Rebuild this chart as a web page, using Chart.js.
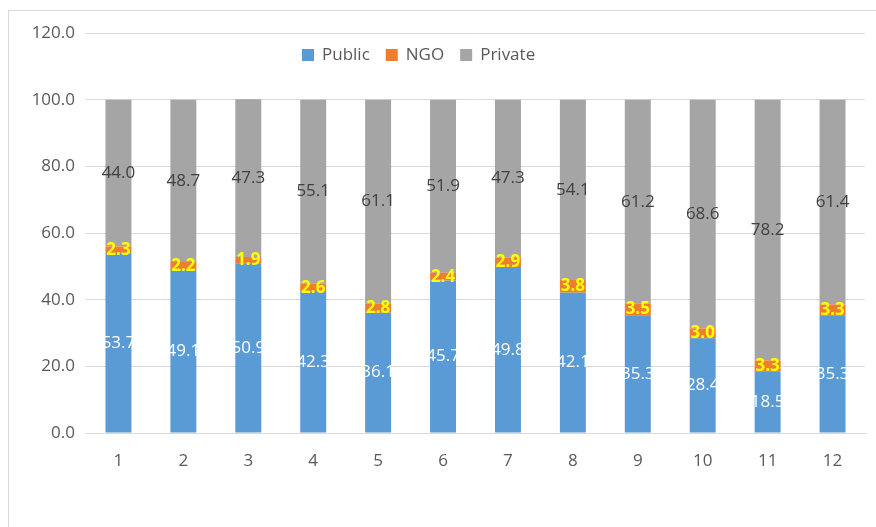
<!DOCTYPE html>
<html>
<head>
<meta charset="utf-8">
<script src="https://cdn.jsdelivr.net/npm/chart.js@4.4.1/dist/chart.umd.min.js"></script>
<style>
    html, body { margin: 0; padding: 0; background: #fff; }
    #wrap { position: relative; width: 876px; height: 527px; overflow: hidden; }
    #frame { position: absolute; left: 8px; top: 10px; width: 900px; height: 560px; border: 1px solid #d9d9d9; box-sizing: border-box; }
    #chart { position: absolute; left: 0; top: 0; }
</style>
</head>
<body>
<div id="wrap">
    <div id="frame"></div>
    <canvas id="chart" width="876" height="527"></canvas>
</div>
<script>
// Datos por mes
const categories = ['1', '2', '3', '4', '5', '6', '7', '8', '9', '10', '11', '12'];
const publicValues = [53.7, 49.1, 50.9, 42.3, 36.1, 45.7, 49.8, 42.1, 35.3, 28.4, 18.5, 35.3];
const ngoValues = [2.3, 2.2, 1.9, 2.6, 2.8, 2.4, 2.9, 3.8, 3.5, 3.0, 3.3, 3.3];
const privateValues = [44.0, 48.7, 47.3, 55.1, 61.1, 51.9, 47.3, 54.1, 61.2, 68.6, 78.2, 61.4];

const FONT = '"Open Sans", "Noto Sans", sans-serif';
const labelColors = ['#ffffff', '#ffff00', '#404040'];
const labelWeights = ['normal', 'bold', 'normal'];

// Etiquetas de valor centradas en cada segmento
const valueLabels = {
    id: 'valueLabels',
    afterDatasetsDraw(chart) {
        const ctx = chart.ctx;
        ctx.save();
        ctx.textAlign = 'center';
        ctx.textBaseline = 'middle';
        chart.data.datasets.forEach((ds, i) => {
            const meta = chart.getDatasetMeta(i);
            ctx.fillStyle = labelColors[i];
            ctx.font = `${labelWeights[i]} 17px ${FONT}`;
            meta.data.forEach((bar, j) => {
                const y = (bar.y + bar.base) / 2;
                ctx.fillText(ds.data[j].toFixed(1), bar.x, y);
            });
        });
        ctx.restore();
    }
};

// Leyenda dibujada encima del área de trazado
const topLegend = {
    id: 'topLegend',
    afterDraw(chart) {
        const ctx = chart.ctx;
        ctx.save();
        ctx.font = `17px ${FONT}`;
        ctx.textBaseline = 'middle';
        let x = 302;
        const y = 55;
        chart.data.datasets.forEach(ds => {
            ctx.fillStyle = ds.backgroundColor;
            ctx.fillRect(x, y - 6, 12, 12);
            ctx.fillStyle = '#595959';
            ctx.fillText(ds.label, x + 20, y);
            x += 20 + ctx.measureText(ds.label).width + 16;
        });
        ctx.restore();
    }
};

new Chart(document.getElementById('chart'), {
    type: 'bar',
    data: {
        labels: categories,
        datasets: [
            { label: 'Public', data: publicValues, backgroundColor: '#5b9bd5' },
            { label: 'NGO', data: ngoValues, backgroundColor: '#ed7d31' },
            { label: 'Private', data: privateValues, backgroundColor: '#a5a5a5' }
        ]
    },
    options: {
        responsive: false,
        animation: false,
        layout: { padding: { top: 33, right: 11, bottom: 54, left: 0 } },
        datasets: { bar: { barPercentage: 0.4, categoryPercentage: 1 } },
        plugins: { legend: { display: false }, tooltip: { enabled: false } },
        scales: {
            x: {
                stacked: true,
                grid: { display: false },
                border: { color: '#d9d9d9' },
                ticks: { color: '#595959', font: { size: 17, family: FONT }, padding: 10 },
                afterFit: s => { s.height = 40; }
            },
            y: {
                stacked: true,
                min: 0,
                max: 120,
                ticks: { stepSize: 20, color: '#595959', font: { size: 17, family: FONT }, padding: 11,
                         callback: v => v.toFixed(1) },
                grid: { color: '#d9d9d9', drawTicks: false },
                border: { display: false },
                afterFit: s => { s.width = 86; }
            }
        }
    },
    plugins: [valueLabels, topLegend]
});
</script>
</body>
</html>
